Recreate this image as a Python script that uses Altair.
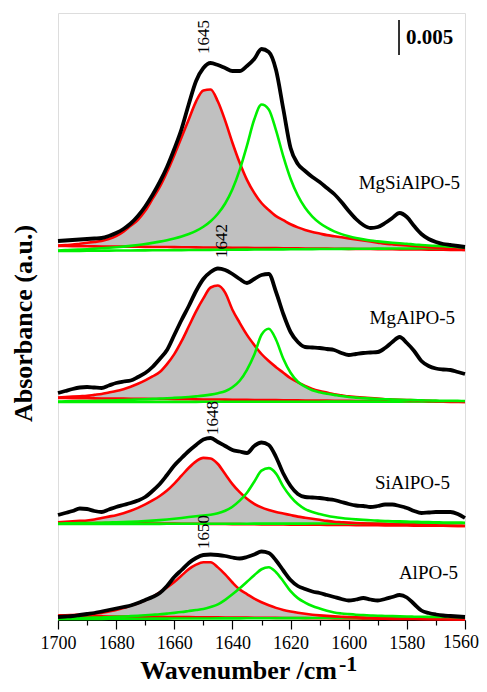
import altair as alt
import pandas as pd

# Sampling grid (wavenumber, cm-1)
wavenumber = [1700, 1697.5, 1695, 1692.5, 1690, 1687.5, 1685, 1682.5, 1680, 1677.5,
              1675, 1672.5, 1670, 1667.5, 1665, 1662.5, 1660, 1657.5, 1655, 1652.5,
              1650, 1647.5, 1645, 1642.5, 1640, 1637.5, 1635, 1632.5, 1630, 1627.5,
              1625, 1622.5, 1620, 1617.5, 1615, 1612.5, 1610, 1607.5, 1605, 1602.5,
              1600, 1597.5, 1595, 1592.5, 1590, 1587.5, 1585, 1582.5, 1580, 1577.5,
              1575, 1572.5, 1570, 1567.5, 1565, 1562.5, 1560]

samples = ["MgSiAlPO-5", "MgAlPO-5", "SiAlPO-5", "AlPO-5"]
# vertical offsets of the stacked spectra (a.u.)
offsets = [371, 220, 96, 2]
# linear baselines of the fitted components (left end at 1700, right end at 1560), relative to offset
red_baseline = [(3, -1), (2, -2), (1.3, -2), (2, -1.5)]
green_baseline = [(-2, 1), (-2, -1.5), (0, 0.7), (-1, 0.5)]

# measured spectra (black), relative to offset
black_mgsialpo = [8, 8.5, 9, 9.5, 10, 10.5, 11, 13, 16, 20,
                  25.5, 33, 42.5, 54, 67, 82, 100, 120, 145, 168,
                  181, 186, 184, 181, 178, 178, 183, 190, 200, 197,
                  179, 140, 101, 85, 78, 72, 67, 61, 55, 47,
                  38, 30, 24, 21, 22, 26, 31, 36, 32, 23,
                  15, 10, 7, 5, 4, 3, 2]
black_mgalpo = [7, 9, 11, 12.5, 13, 12.5, 12, 14.5, 17, 18.5,
                19.5, 23, 27, 33, 41, 50, 65, 80, 94, 109,
                121, 128, 131.5, 130, 126, 121, 117, 121, 125, 126,
                108, 86, 68, 58, 53, 52.5, 52, 51, 50, 47,
                45, 46, 47, 47.5, 48, 52, 58, 63, 57, 49,
                39, 34, 31.5, 30.5, 30, 28, 26]
black_sialpo = [9, 11, 13, 15.5, 15, 13, 12, 14.5, 17, 19,
                21, 23.5, 27, 33, 40, 49, 58.5, 66, 73, 79,
                84.5, 86, 82, 78, 74, 72.5, 71, 78, 81.5, 79,
                67, 50.5, 38, 30, 27, 26.5, 26, 25, 24, 22,
                20, 18.5, 18, 17, 18, 19.5, 19.5, 18, 16, 13,
                11, 11.5, 12, 12, 12, 10, 6]
black_alpo = [1, 1.5, 2, 3, 4, 5, 6.5, 8, 9.5, 11,
              12.5, 15, 18, 21, 25, 32, 41, 48, 55, 60,
              63, 63.5, 63, 62, 60.5, 59.5, 61, 63.5, 66.5, 65,
              57.5, 47.5, 38, 32, 29, 26.5, 25, 23, 21, 19,
              17.5, 18.5, 20, 18.5, 17.5, 19, 21, 23, 20.5, 14,
              7.5, 5, 3.5, 2.5, 2, 1.5, 1]

# fitted component ~1645-1650 cm-1 (red), height above its baseline
red_mgsialpo = [0.5, 1, 1.5, 2.5, 3.5, 4.5, 5.5, 7.5, 10.5, 15,
                21, 27, 36, 48, 60, 75, 92, 110, 128, 146,
                157, 158, 146, 127, 105, 85, 68, 55, 45, 38,
                32, 28, 24, 21, 18.5, 16.5, 15, 13.5, 12.5, 11.5,
                10.5, 9.5, 8.5, 7.5, 6.5, 5.5, 5, 4.5, 4, 3.5,
                3, 2.5, 2, 1.5, 1, 0.5, 0]
red_mgalpo = [0.5, 1, 1.5, 2, 2.5, 3.5, 4.5, 6, 7.5, 9.5,
              12, 15, 18.5, 22.5, 27, 35, 45, 58, 73, 88,
              101, 112, 114, 107, 90, 77, 65, 55, 46, 39,
              33, 27.5, 22, 18, 14.5, 11.5, 9.5, 8, 6.5, 5.5,
              4.5, 4, 3.5, 3, 2.5, 2, 1.8, 1.6, 1.4, 1.2,
              1, 0.8, 0.6, 0.5, 0.3, 0.2, 0]
red_sialpo = [0.5, 1, 1.5, 2, 2.5, 3.5, 5, 6.5, 8, 10,
              12.5, 15.5, 19, 23, 27.5, 33, 40, 48, 56, 62.5,
              66, 65.5, 60, 50, 40, 32, 25.5, 20.5, 17, 14.5,
              12.5, 11, 9.5, 8, 7, 6, 5, 4, 3.2, 2.8,
              2.4, 2.1, 1.8, 1.6, 1.4, 1.2, 1.0, 0.9, 0.8, 0.7,
              0.6, 0.5, 0.4, 0.3, 0.2, 0.1, 0]
red_alpo = [0.5, 0.8, 1.2, 1.6, 2, 2.7, 3.5, 5, 6.5, 8.5,
            11, 13.5, 16.5, 20, 24.5, 29.5, 35, 41.5, 48, 52.5,
            55, 55, 50, 43, 35, 28, 23.5, 19, 15.5, 12.5,
            10, 8, 6.5, 5.3, 4.3, 3.5, 2.9, 2.4, 2.0, 1.7,
            1.4, 1.2, 1.0, 0.9, 0.8, 0.7, 0.6, 0.5, 0.4, 0.35,
            0.3, 0.25, 0.2, 0.15, 0.1, 0.05, 0]

# fitted component ~1628 cm-1 (green), height above its baseline
green_mgsialpo = [0.5, 0.8, 1, 1.3, 1.6, 2, 2.4, 2.8, 3.3, 3.9,
                  4.6, 5.4, 6.3, 7.4, 8.6, 10, 11.6, 13.5, 16, 19.1,
                  23.2, 28.7, 36.1, 46.3, 60.5, 79.8, 104, 130, 145, 140,
                  119, 93, 70.6, 53.7, 41.4, 32.6, 26.1, 21.3, 17.6, 14.8,
                  12.6, 10.8, 9.4, 8.2, 7.3, 6.5, 5.8, 5.2, 4.7, 3.8,
                  3.3, 2.8, 2.3, 1.9, 1.5, 1.1, 0.8]
green_mgalpo = [0.5, 0.6, 0.7, 0.8, 0.9, 1.0, 1.2, 1.4, 1.6, 1.8,
                2.1, 2.4, 2.7, 3.0, 3.3, 3.6, 4.0, 4.4, 4.9, 5.5,
                6.2, 7.2, 8.6, 10.5, 14.5, 21, 32, 47, 67, 73,
                62, 43, 29, 20, 15, 11.5, 9.5, 8, 6.8, 5.6,
                4.6, 4.0, 3.5, 3.0, 2.6, 2.3, 2.0, 1.8, 1.6, 1.4,
                1.2, 1.0, 0.9, 0.8, 0.7, 0.6, 0.5]
green_sialpo = [0.5, 0.6, 0.7, 0.8, 0.9, 1.0, 1.2, 1.4, 1.6, 1.8,
                2.1, 2.4, 2.8, 3.2, 3.7, 4.3, 5, 5.8, 6.7, 7.5,
                8.2, 9, 10.5, 13, 17, 23, 31, 42, 53, 55.5,
                50, 37, 27, 19.5, 14.5, 11.5, 9.5, 7.8, 6.5, 5.5,
                4.7, 4.1, 3.6, 3.2, 2.8, 2.5, 2.2, 2.0, 1.8, 1.6,
                1.4, 1.2, 1.0, 0.9, 0.8, 0.7, 0.6]
green_alpo = [0.5, 0.6, 0.7, 0.8, 1.0, 1.2, 1.4, 1.6, 1.9, 2.2,
              2.6, 3.0, 3.5, 3.9, 4.3, 5, 5.7, 6.5, 7.5, 8.5,
              9.5, 11.5, 14, 18.5, 24, 30, 36.5, 43, 49, 51,
              46, 37, 27, 20, 15.5, 12, 9.5, 7.3, 5.5, 4.5,
              3.8, 3.2, 2.8, 2.4, 2.1, 1.8, 1.6, 1.4, 1.2, 1.0,
              0.9, 0.8, 0.7, 0.6, 0.5, 0.4, 0.3]

black_all = [black_mgsialpo, black_mgalpo, black_sialpo, black_alpo]
red_all = [red_mgsialpo, red_mgalpo, red_sialpo, red_alpo]
green_all = [green_mgsialpo, green_mgalpo, green_sialpo, green_alpo]

# annotations
peak_labels = ["1645", "1642", "1648", "1650"]
peak_label_w = [1649.8, 1643.6, 1646.7, 1649.8]
peak_label_y = [583, 379, 202, 88]
name_w = [1561.7, 1563.4, 1565.2, 1562.4]
name_y = [437, 302, 137, 47]
scale_bar_w = 1582.7
scale_bar_y = (565, 600)   # 0.005 absorbance
scale_bar_text = "0.005"
x_ticks = [1700, 1690, 1680, 1670, 1660, 1650, 1640, 1630, 1620, 1610,
           1600, 1590, 1580, 1570, 1560]
edge_tick_label = 1560

rows = []
for p, name in enumerate(samples):
    off = offsets[p]
    rbl, rbr = red_baseline[p]
    gbl, gbr = green_baseline[p]
    for i, w in enumerate(wavenumber):
        frac = (1700 - w) / 140.0
        rb = off + rbl + (rbr - rbl) * frac
        gb = off + gbl + (gbr - gbl) * frac
        rows.append({
            "panel": name, "w": w,
            "black": off + black_all[p][i],
            "red": rb + red_all[p][i], "redbase": rb,
            "green": gb + green_all[p][i], "greenbase": gb,
        })
df = pd.DataFrame(rows)

FONT = "Liberation Serif, Times New Roman, serif"
xscale = alt.Scale(domain=[1560, 1700], reverse=True, nice=False, zero=False)
yscale = alt.Scale(domain=[0, 607], nice=False, zero=False)

xaxis = alt.Axis(
    values=x_ticks, format="d",
    labelExpr=f"datum.value % 20 === 0 && datum.value !== {edge_tick_label} ? datum.label : ''",
    labelFlush=False, labelOverlap=False,
    tickSize={"condition": {"test": "datum.value % 20 === 0", "value": 9}, "value": 5},
    tickColor="black", tickWidth=1.2, domainColor="black", domainWidth=1.2,
    labelFont=FONT, labelFontSize=18, labelColor="black", labelPadding=5,
    grid=False,
    title="Wavenumber /cm", titleFont=FONT, titleFontSize=26, titleFontWeight="bold",
    titleColor="black", titleX=180, titleY=58, titleAlign="center",
    titleBaseline="alphabetic",
)
yaxis = alt.Axis(
    labels=False, ticks=False, domain=False, grid=False,
    title="Absorbance (a.u.)", titleFont=FONT, titleFontSize=26, titleFontWeight="bold",
    titleColor="black", titleX=-35, titleY=310, titleAngle=270,
    titleAlign="center", titleBaseline="middle",
)

X = alt.X("w:Q", scale=xscale, axis=xaxis)

def Y(field):
    return alt.Y(f"{field}:Q", scale=yscale, axis=yaxis)

base = alt.Chart(df)
GREEN = "#00f000"
RED = "#ff0000"

fill = base.mark_area(color="#c0c0c0", interpolate="monotone").encode(
    x=X, y=Y("red"), y2="redbase:Q", detail="panel:N")
red_base_line = base.mark_line(color=RED, strokeWidth=2.6).encode(
    x=X, y=Y("redbase"), detail="panel:N")
green_base_line = base.mark_line(color=GREEN, strokeWidth=2.6).encode(
    x=X, y=Y("greenbase"), detail="panel:N")
red_line = base.mark_line(color=RED, strokeWidth=2.6, interpolate="monotone").encode(
    x=X, y=Y("red"), detail="panel:N")
green_line = base.mark_line(color=GREEN, strokeWidth=2.6, interpolate="monotone").encode(
    x=X, y=Y("green"), detail="panel:N")
black_line = base.mark_line(color="black", strokeWidth=3.8, interpolate="monotone").encode(
    x=X, y=Y("black"), detail="panel:N")

peak_df = pd.DataFrame({"t": peak_labels, "w": peak_label_w, "y": peak_label_y})
peak_text = alt.Chart(peak_df).mark_text(
    angle=270, align="center", baseline="middle", font=FONT, fontSize=17, color="black"
).encode(x=X, y=Y("y"), text="t:N")

name_df = pd.DataFrame({"t": samples, "w": name_w, "y": name_y})
name_text = alt.Chart(name_df).mark_text(
    align="right", baseline="middle", font=FONT, fontSize=19, color="black"
).encode(x=X, y=Y("y"), text="t:N")

bar_df = pd.DataFrame({"w": [scale_bar_w], "y": [scale_bar_y[0]], "y2": [scale_bar_y[1]],
                       "t": [scale_bar_text], "ym": [(scale_bar_y[0] + scale_bar_y[1]) / 2]})
bar = alt.Chart(bar_df).mark_rule(color="black", strokeWidth=1.6).encode(
    x=X, y=Y("y"), y2="y2:Q")
bar_text = alt.Chart(bar_df).mark_text(
    align="left", baseline="middle", dx=7, font=FONT, fontSize=21, fontWeight="bold", color="black"
).encode(x=X, y=Y("ym"), text="t:N")

# last tick label, nudged so it stays inside the page
edge_df = pd.DataFrame({"w": [edge_tick_label], "t": [str(edge_tick_label)]})
edge_text = alt.Chart(edge_df).mark_text(
    align="right", baseline="top", dx=14, font=FONT, fontSize=18, color="black"
).encode(x=X, y=alt.value(621), text="t:N")

sup = alt.Chart(pd.DataFrame({"t": ["-1"]})).mark_text(
    align="left", baseline="middle", font=FONT, fontSize=22, fontWeight="bold", color="black"
).encode(x=alt.value(281), y=alt.value(651), text="t:N")

chart = alt.layer(
    fill, red_base_line, green_base_line, red_line, green_line, black_line,
    peak_text, name_text, bar, bar_text, edge_text, sup
).properties(
    width=407, height=607,
    autosize=alt.AutoSizeParams(type="none"),
    padding={"left": 50, "top": 5, "right": 14, "bottom": 64},
).configure_view(
    stroke="black", strokeWidth=1.2
).configure(background="white")

chart.save("out.html", embed_options={"renderer": "svg", "actions": False})
